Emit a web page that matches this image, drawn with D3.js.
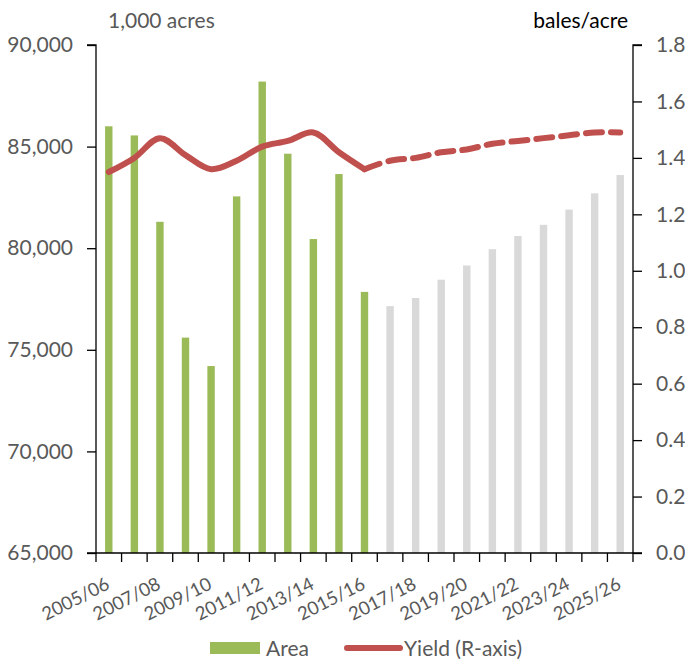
<!DOCTYPE html>
<html><head><meta charset="utf-8">
<script src="https://cdn.jsdelivr.net/npm/d3@7"></script>
<style>body{margin:0;background:#fff}svg{display:block}text{font-family:Lato,"Open Sans",sans-serif}</style>
</head><body><svg id="c" width="685" height="661"></svg>
<script>
const categories = ["2005/06","2006/07","2007/08","2008/09","2009/10","2010/11","2011/12","2012/13","2013/14","2014/15","2015/16","2016/17","2017/18","2018/19","2019/20","2020/21","2021/22","2022/23","2023/24","2024/25","2025/26"];
const area = [86000,85550,81300,75600,74200,82550,88200,84650,80450,83650,77850,77150,77550,78450,79150,79950,80600,81150,81900,82700,83600];
const yieldVals = [1.35,1.40,1.47,1.41,1.36,1.39,1.44,1.46,1.49,1.42,1.36,1.39,1.40,1.42,1.43,1.45,1.46,1.47,1.48,1.49,1.49];
const histCount = 11; // 2005/06 .. 2015/16 actual
const leftTicks = [65000,70000,75000,80000,85000,90000];
const rightTicks = [0,0.2,0.4,0.6,0.8,1.0,1.2,1.4,1.6,1.8];
const xLabels = ["2005/06","2007/08","2009/10","2011/12","2013/14","2015/16","2017/18","2019/20","2021/22","2023/24","2025/26"];

const svg = d3.select("#c");
const L=96,R=633,T=45,B=553;
const x = d3.scaleBand().domain(categories).range([L,R]).paddingInner(0.71).paddingOuter(0.355);
const xb = d3.scaleBand().domain(categories).range([L,R]);
const yL = d3.scaleLinear().domain([65000,90000]).range([B,T]);
const yR = d3.scaleLinear().domain([0,1.8]).range([B,T]);
const grey="#595959";

// bars
svg.append("g").selectAll("rect").data(categories).join("rect")
  .attr("x",d=>x(d)).attr("width",x.bandwidth())
  .attr("y",(d,i)=>yL(area[i])).attr("height",(d,i)=>B-yL(area[i]))
  .attr("fill",(d,i)=>i<histCount?"#9BBB59":"#D9D9D9");

// left axis
const la = svg.append("g").attr("transform",`translate(${L},0)`)
  .call(d3.axisLeft(yL).tickValues(leftTicks).tickFormat(d3.format(",")).tickSize(9).tickPadding(14));
// right axis
const ra = svg.append("g").attr("transform",`translate(${R},0)`)
  .call(d3.axisRight(yR).tickValues(rightTicks).tickFormat(d3.format(".1f")).tickSize(9).tickPadding(14));
// tick marks at band boundaries
const bounds = categories.map(c=>xb(c)).concat([R]);
svg.append("g").selectAll("line").data(bounds).join("line")
  .attr("x1",d=>d).attr("x2",d=>d).attr("y1",B).attr("y2",B+9)
  .attr("stroke","#000").attr("stroke-width",1.3);
svg.append("line").attr("x1",L).attr("x2",R).attr("y1",B).attr("y2",B).attr("stroke","#000").attr("stroke-width",1.3);

[la,ra].forEach(g=>{
  g.select(".domain").attr("stroke","#000").attr("stroke-width",1.3);
  g.selectAll(".tick line").attr("stroke","#000").attr("stroke-width",1.3);
  g.selectAll(".tick text").attr("fill",grey).style("font-size","21px").style("font-family","Lato");
});
la.select(".domain").attr("d",`M-9,${T}H0V${B}H-9`);
ra.select(".domain").attr("d",`M9,${T}H0V${B}H9`);

// x labels
svg.append("g").selectAll("text").data(xLabels).join("text")
  .attr("transform",d=>`translate(${xb(d)+xb.bandwidth()/2+2},${B+35}) rotate(-27)`)
  .attr("text-anchor","end")
  .attr("fill",grey).style("font-size","18.5px").text(d=>d);

// yield line
const line = d3.line().x(d=>xb(d.c)+xb.bandwidth()/2).y(d=>yR(d.v)).curve(d3.curveCatmullRom.alpha(0.5));
const pts = categories.map((c,i)=>({c,v:yieldVals[i]}));
svg.append("path").attr("d",line(pts.slice(0,histCount))).attr("fill","none")
  .attr("stroke","#C0504D").attr("stroke-width",6).attr("stroke-linecap","round").attr("stroke-linejoin","round");
svg.append("path").attr("d",line(pts.slice(histCount-1))).attr("fill","none")
  .attr("stroke","#C0504D").attr("stroke-width",6).attr("stroke-linecap","round")
  .attr("stroke-dasharray","16,9");

// axis titles
svg.append("text").attr("x",108).attr("y",28).attr("fill",grey).style("font-size","21px").text("1,000 acres");
svg.append("text").attr("x",628).attr("y",28).attr("text-anchor","end").attr("fill","#000").style("font-size","21px").text("bales/acre");

// legend
const lg = svg.append("g");
lg.append("rect").attr("x",210).attr("y",642).attr("width",50).attr("height",12).attr("fill","#9BBB59");
lg.append("text").attr("x",266).attr("y",656).attr("fill",grey).style("font-size","21px").text("Area");
lg.append("line").attr("x1",347).attr("x2",400).attr("y1",648).attr("y2",648).attr("stroke","#C0504D").attr("stroke-width",6).attr("stroke-linecap","round");
lg.append("text").attr("x",404).attr("y",656).attr("fill",grey).style("font-size","21px").text("Yield (R-axis)");
</script></body></html>
